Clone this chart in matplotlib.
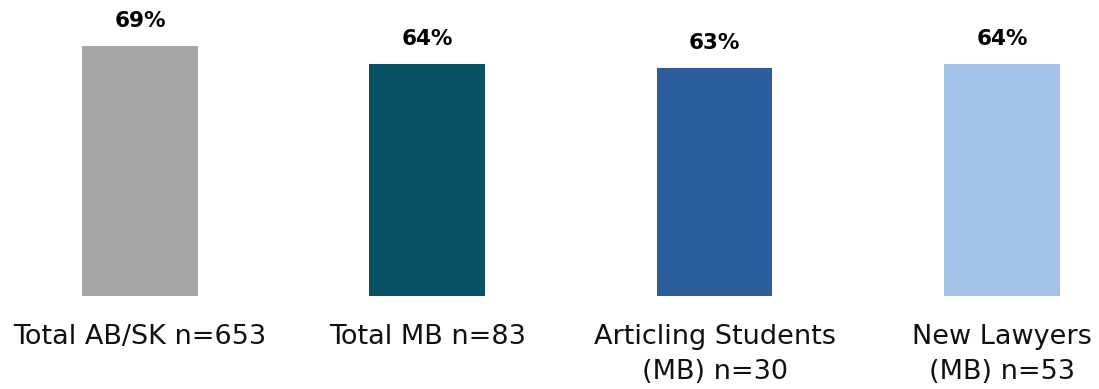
import matplotlib
matplotlib.use("Agg")
import matplotlib.pyplot as plt

categories = ["Total AB/SK n=653", "Total MB n=83", "Articling Students\n(MB) n=30", "New Lawyers\n(MB) n=53"]
values = [69, 64, 63, 64]
colors = ["#A6A6A6", "#065163", "#2B5D9C", "#A2C1E6"]

plt.rcParams['font.family'] = ['DejaVu Sans']

fig = plt.figure(figsize=(10.99, 3.89), dpi=100)
ax = fig.add_axes([0, 1 - 296 / 389, 1, 296 / 389])

x = range(len(values))
bars = ax.bar(x, values, width=0.403, color=colors)
for xi, v in zip(x, values):
    ax.text(xi, v + 4.2, f"{v}%", ha="center", va="bottom", fontsize=15.5, fontweight="bold", color="#000000")

ax.set_xlim(-0.487, 3.338)
ax.set_ylim(0, 81.7)
ax.set_xticks(list(x))
ax.set_xticklabels(categories, fontsize=19.5, color="#111111", linespacing=1.45)
ax.tick_params(axis="x", length=0, pad=20)
ax.set_yticks([])
for s in ax.spines.values():
    s.set_visible(False)

fig.savefig("out.png", dpi=100)
